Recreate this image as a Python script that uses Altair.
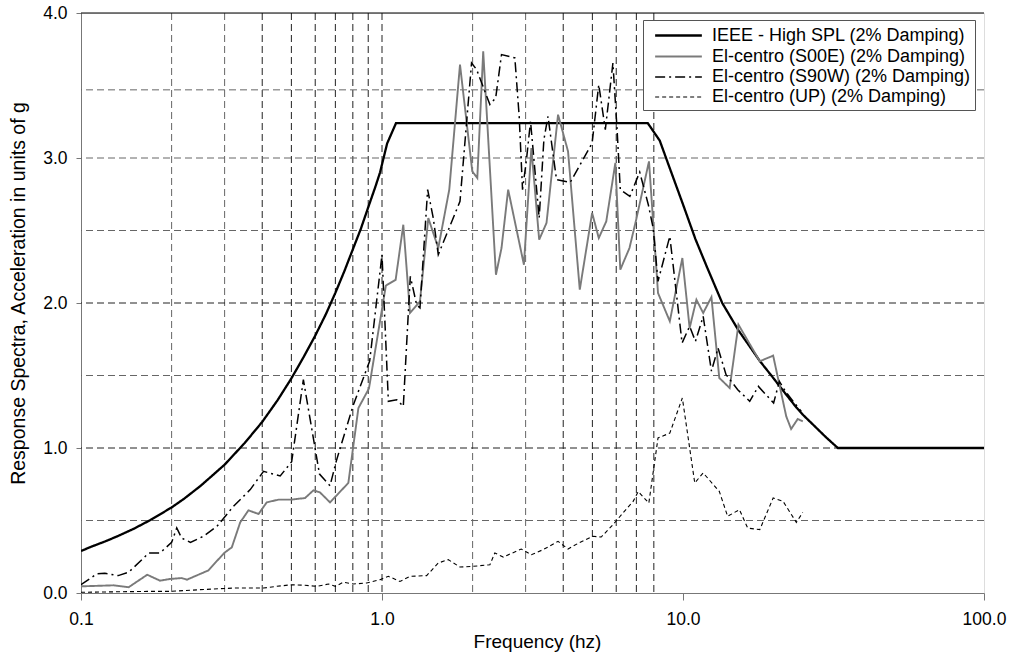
import altair as alt
import pandas as pd

# ---------------- data ----------------
series_names = [
    "IEEE - High SPL (2% Damping)",
    "El-centro (S00E) (2% Damping)",
    "El-centro (S90W) (2% Damping)",
    "El-centro (UP) (2% Damping)",
]

ieee_f = [0.1, 0.11, 0.12, 0.13, 0.14, 0.15, 0.17, 0.2, 0.22, 0.25, 0.28, 0.3, 0.35, 0.4, 0.45,
          0.5, 0.55, 0.6, 0.65, 0.7, 0.75, 0.8, 0.85, 0.9, 0.95, 0.985, 1.04, 1.113, 7.64, 8.37,
          9.0, 10.0, 11.0, 12.0, 13.5, 15.3, 18.0, 20.0, 21.8, 23.8, 25.0, 27.7, 30.0, 32.7, 100.0]
ieee_v = [0.29, 0.325, 0.355, 0.385, 0.415, 0.444, 0.503, 0.59, 0.65, 0.74, 0.83, 0.885, 1.035, 1.18, 1.33,
          1.48, 1.63, 1.775, 1.92, 2.07, 2.22, 2.37, 2.51, 2.66, 2.8, 2.9, 3.1, 3.24, 3.24, 3.12,
          2.94, 2.68, 2.44, 2.25, 2.0, 1.81, 1.6, 1.48, 1.38, 1.28, 1.23, 1.14, 1.07, 1.0, 1.0]

s00e_f = [0.1, 0.116, 0.128, 0.144, 0.166, 0.183, 0.198, 0.216, 0.225, 0.265,
          0.299, 0.317, 0.338, 0.36, 0.389, 0.414, 0.453, 0.501, 0.555, 0.592,
          0.622, 0.672, 0.773, 0.835, 0.905, 1.03, 1.11, 1.177, 1.239, 1.337,
          1.425, 1.538, 1.673, 1.816, 1.995, 2.073, 2.169, 2.391, 2.495, 2.625,
          2.961, 3.135, 3.328, 3.52, 3.845, 4.15, 4.54, 4.99, 5.25, 5.56,
          5.96, 6.19, 6.64, 6.99, 7.71, 8.26, 9.04, 9.95, 10.52, 11.08,
          11.67, 12.43, 13.2, 14.29, 15.28, 17.99, 19.93, 22.03, 22.87, 24.05, 25.0]
s00e_v = [0.046, 0.05, 0.053, 0.04, 0.126, 0.085, 0.097, 0.103, 0.092, 0.156,
          0.276, 0.315, 0.487, 0.57, 0.545, 0.625, 0.644, 0.644, 0.655, 0.708,
          0.694, 0.625, 0.759, 1.276, 1.41, 2.12, 2.16, 2.54, 1.931, 2.011,
          2.586, 2.379, 2.782, 3.644, 2.908, 2.862, 3.736, 2.195, 2.379, 2.782,
          2.264, 3.069, 2.437, 2.552, 3.299, 3.046, 2.092, 2.621, 2.448, 2.563,
          2.966, 2.23, 2.379, 2.575, 2.977, 2.069, 1.874, 2.31, 1.828, 2.023,
          1.931, 2.041, 1.483, 1.414, 1.851, 1.598, 1.637, 1.218, 1.131, 1.2, 1.184]

s90w_f = [0.1, 0.113, 0.12, 0.133, 0.144, 0.168, 0.183, 0.2, 0.208, 0.216, 0.231,
          0.255, 0.283, 0.321, 0.365, 0.404, 0.459, 0.501, 0.548, 0.62, 0.672,
          0.705, 0.8, 0.91, 1.0, 1.05, 1.119, 1.177, 1.223, 1.242, 1.303,
          1.337, 1.418, 1.48, 1.538, 1.816, 1.984, 2.062, 2.283, 2.386, 2.495,
          2.763, 2.856, 2.93, 3.02, 3.115, 3.328, 3.45, 3.56, 3.80, 4.22,
          4.99, 5.25, 5.52, 5.85, 6.04, 6.19, 6.66, 7.18, 7.67, 7.96,
          8.26, 9.04, 9.93, 10.52, 11.0, 11.67, 12.43, 13.07, 13.9, 15.2,
          16.66, 17.8, 20.0, 20.9, 21.9, 23.0, 24.7]
s90w_v = [0.057, 0.133, 0.136, 0.12, 0.143, 0.276, 0.276, 0.349, 0.448, 0.379, 0.349,
          0.391, 0.46, 0.598, 0.713, 0.839, 0.807, 0.905, 1.471, 0.82, 0.74,
          0.91, 1.287, 1.6, 2.333, 1.322, 1.333, 1.287, 1.931, 2.184, 1.989,
          1.966, 2.782, 2.586, 2.333, 2.701, 3.655, 3.61, 3.368, 3.414, 3.713,
          3.69, 3.287, 2.782, 2.989, 3.253, 2.586, 3.126, 3.287, 2.851, 2.832,
          3.103, 3.506, 3.195, 3.655, 3.195, 2.782, 2.736, 2.903, 2.678, 2.517,
          2.149, 2.46, 1.724, 1.839, 1.736, 1.908, 1.53, 1.69, 1.506, 1.402,
          1.322, 1.425, 1.31, 1.46, 1.39, 1.333, 1.253]

up_f = [0.1, 0.166, 0.198, 0.249, 0.321, 0.404, 0.447, 0.501, 0.555, 0.607,
        0.664, 0.7, 0.744, 0.803, 0.89, 0.985, 1.05, 1.147, 1.24, 1.407,
        1.538, 1.66, 1.816, 2.01, 2.283, 2.37, 2.53, 2.9, 3.135, 3.43,
        3.845, 4.15, 4.54, 5.02, 5.35, 5.85, 6.32, 6.83, 7.1, 7.7,
        8.26, 9.04, 9.95, 10.94, 11.67, 13.2, 14.07, 15.4, 16.4, 17.99,
        19.93, 21.5, 23.8, 25.0]
up_v = [0.005, 0.011, 0.011, 0.023, 0.034, 0.034, 0.046, 0.057, 0.053, 0.046,
        0.062, 0.046, 0.074, 0.062, 0.069, 0.092, 0.115, 0.08, 0.115, 0.12,
        0.207, 0.23, 0.179, 0.184, 0.195, 0.276, 0.248, 0.303, 0.264, 0.299,
        0.356, 0.303, 0.349, 0.391, 0.386, 0.471, 0.552, 0.632, 0.70, 0.62,
        1.069, 1.103, 1.345, 0.759, 0.828, 0.701, 0.529, 0.575, 0.448, 0.437,
        0.655, 0.632, 0.487, 0.556]

x_ticks = [0.1, 1, 10, 100]
y_ticks = [0, 1, 2, 3, 4]
hgrid_dark = [1.0, 2.0]
hgrid_light = [0.5, 1.5, 2.5, 3.0, 3.47]
vgrid_light = [0.2, 0.3, 2, 3]
vgrid_dark = [0.4, 0.5, 0.6, 0.7, 0.8, 0.9, 1, 4, 5, 6, 7, 8]

# ---------------- build table ----------------
rows = []
for name, fs, vs in zip(series_names,
                        [ieee_f, s00e_f, s90w_f, up_f],
                        [ieee_v, s00e_v, s90w_v, up_v]):
    assert len(fs) == len(vs)
    for i, (f, v) in enumerate(zip(fs, vs)):
        rows.append({"series": name, "f": f, "v": v, "order": i})
df = pd.DataFrame(rows)

FONT = "Liberation Sans"
X_TITLE = "Frequency (hz)"
Y_TITLE = "Response Spectra, Acceleration in units of g"
x_scale = alt.Scale(type="log", domain=[0.1, 100], nice=False)
y_scale = alt.Scale(domain=[0, 4], nice=False, zero=True)

x_axis = alt.Axis(values=x_ticks, format=".1f", grid=False,
                  labelFontSize=17.5, labelFont=FONT, labelColor="#000",
                  labelBaseline="alphabetic", labelPadding=24, labelFlush=False,
                  labelOverlap=False,
                  tickSize=7, tickColor="#777", domainColor="#777",
                  titleFontSize=19, titleFont=FONT, titleFontWeight="normal",
                  titleColor="#000", titleBaseline="alphabetic",
                  titleX=456, titleY=54, titleAlign="center")
y_axis = alt.Axis(values=y_ticks, format=".1f", grid=False,
                  labelFontSize=17.5, labelFont=FONT, labelColor="#000",
                  labelPadding=9, labelFlush=False, labelOverlap=False,
                  tickSize=5, tickColor="#777", domainColor="#777",
                  titleFontSize=19.5, titleFont=FONT, titleFontWeight="normal",
                  titleColor="#000", titleAngle=270, titleBaseline="alphabetic",
                  titleX=-57, titleY=280, titleAlign="center")

legend = alt.Legend(
    title=None, orient="none", legendX=562, legendY=7,
    symbolType="M-2.28,0H2.28", symbolSize=420, labelFontSize=18, labelFont=FONT,
    labelColor="#000", strokeColor="#555", fillColor="#ffffff",
    padding=4, symbolOffset=20, labelOffset=22, rowPadding=0, labelLimit=400,
)

lines = alt.Chart(df).mark_line(clip=True).encode(
    x=alt.X("f:Q", scale=x_scale, title=X_TITLE, axis=x_axis),
    y=alt.Y("v:Q", scale=y_scale, title=Y_TITLE, axis=y_axis),
    order=alt.Order("order:Q"),
    color=alt.Color("series:N", legend=legend,
                    scale=alt.Scale(domain=series_names,
                                    range=["#000000", "#7a7a7a", "#000000", "#000000"])),
    strokeWidth=alt.StrokeWidth("series:N", legend=legend,
                                scale=alt.Scale(domain=series_names, range=[2.3, 1.1, 2.0, 2.0])),
    strokeDash=alt.StrokeDash("series:N", legend=legend,
                              scale=alt.Scale(domain=series_names,
                                              range=[[1, 0], [1, 0], [10, 4, 2, 4], [4, 3]])),
)

def vrules(vals, color):
    return alt.Chart(pd.DataFrame({"f": vals})).mark_rule(
        color=color, strokeWidth=1, strokeDash=[7, 4]
    ).encode(x=alt.X("f:Q", scale=x_scale, title=X_TITLE, axis=x_axis))

def hrules(vals, color):
    return alt.Chart(pd.DataFrame({"v": vals})).mark_rule(
        color=color, strokeWidth=1, strokeDash=[7, 4]
    ).encode(y=alt.Y("v:Q", scale=y_scale, title=Y_TITLE, axis=y_axis))

top_border = alt.Chart(pd.DataFrame({"v": [4.0]})).mark_rule(
    color="#000", strokeWidth=1.2
).encode(y=alt.Y("v:Q", scale=y_scale, title=Y_TITLE, axis=y_axis))

chart = alt.layer(
    vrules(vgrid_light, "#666"), vrules(vgrid_dark, "#222"),
    hrules(hgrid_light, "#666"), hrules(hgrid_dark, "#222"),
    top_border, lines,
).properties(
    width=903, height=580,
    autosize=alt.AutoSizeParams(type="none"),
    padding={"left": 81, "top": 13, "right": 29, "bottom": 62},
    background="#ffffff",
).configure_view(stroke="#777", strokeWidth=1).configure(font=FONT)

chart.save("out.html", embed_options={"renderer": "svg", "actions": False})
